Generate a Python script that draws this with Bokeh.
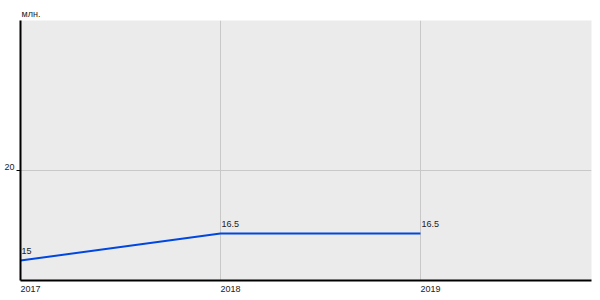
from bokeh.plotting import figure
from bokeh.models import Range1d, ColumnDataSource, LabelSet, FixedTicker, LinearAxis
from bokeh.core.properties import value
from bokeh.embed import file_html
from bokeh.resources import INLINE

years = [2017, 2018, 2019]
values = [15, 16.5, 16.5]
value_labels = ["15", "16.5", "16.5"]
year_labels = ["2017", "2018", "2019"]
y_ticks = [20]
y_tick_labels = ["20"]
unit_label = "млн."

FONT = "Liberation Sans"
TXT = "#222222"
X0, X1 = 2017, 2019.855
Y0, Y1 = 13.89, 28.33
XSHIFT = 0.05   # shift labels right so they start at the tick
YSHIFT = 0.22   # shift labels up so they sit on the tick

p = figure(width=600, height=300, output_backend="svg", toolbar_location=None,
           x_range=Range1d(X0, X1), y_range=Range1d(Y0, Y1),
           x_axis_location=None, y_axis_location=None,
           min_border_left=20, min_border_right=9, min_border_top=20, min_border_bottom=20)
p.extra_x_ranges = {"lab": Range1d(X0 - XSHIFT, X1 - XSHIFT)}
p.extra_y_ranges = {"lab": Range1d(Y0 - YSHIFT, Y1 - YSHIFT)}
p.background_fill_color = "#ebebeb"
p.border_fill_color = "white"
p.outline_line_color = None

p.title.text = unit_label
p.title.align = "left"
p.title.text_font = FONT
p.title.text_font_size = "9px"
p.title.text_font_style = "normal"
p.title.text_color = TXT
p.title.standoff = 3
p.title.offset = 1

xax = LinearAxis(x_range_name="lab", ticker=FixedTicker(ticks=years),
                 major_label_overrides={y: t for y, t in zip(years, year_labels)})
# main y axis: line and tick only
ymain = LinearAxis(ticker=FixedTicker(ticks=y_ticks),
                   major_label_overrides={y: "" for y in y_ticks})
# label axis: tick labels only, shifted so they sit on the tick
ylab = LinearAxis(y_range_name="lab", ticker=FixedTicker(ticks=y_ticks),
                  major_label_overrides={y: t for y, t in zip(y_ticks, y_tick_labels)})
for ax in (xax, ymain, ylab):
    ax.major_label_text_font = FONT
    ax.major_label_text_font_size = "9px"
    ax.major_label_text_color = TXT
    ax.minor_tick_line_color = None
    ax.major_tick_line_color = None
    ax.major_tick_out = 0
    ax.major_tick_in = 0
    ax.axis_line_color = "black"
    ax.axis_line_width = 2
xax.major_label_standoff = 5
ymain.major_tick_line_color = "black"
ymain.major_tick_out = 4
ymain.major_label_standoff = 0
ylab.axis_line_color = None
ylab.major_label_standoff = 2
p.add_layout(xax, "below")
p.add_layout(ymain, "left")
p.add_layout(ylab, "left")

p.xgrid.grid_line_color = "#c8c8c8"
p.ygrid.grid_line_color = "#c8c8c8"
p.xgrid.ticker = FixedTicker(ticks=years)
p.ygrid.ticker = FixedTicker(ticks=y_ticks)

src = ColumnDataSource(dict(x=years, y=values, t=value_labels))
p.line("x", "y", source=src, line_color="#0047e0", line_width=2)
p.add_layout(LabelSet(x="x", y="y", text="t", source=src, x_offset=1, y_offset=7,
                      text_font=value(FONT), text_font_size=value("9px"), text_color=TXT,
                      text_align="left", text_baseline="bottom"))

open("out.html", "w").write(file_html(p, INLINE))
